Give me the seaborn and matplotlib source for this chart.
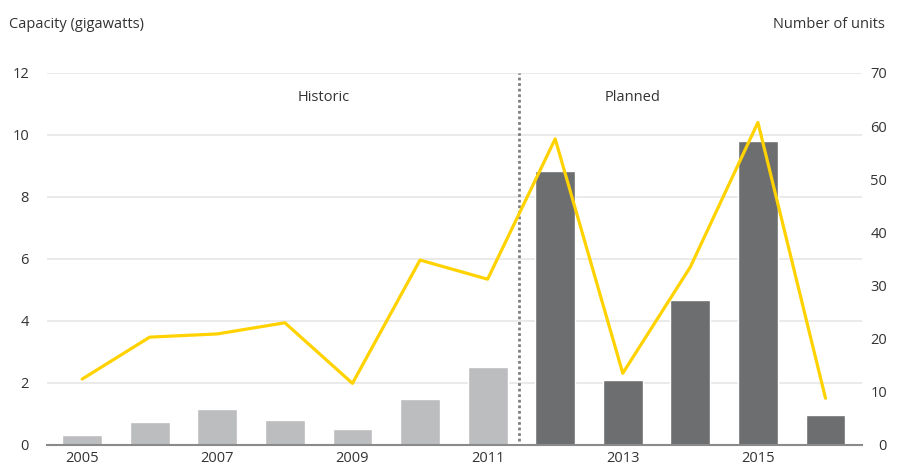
import matplotlib
matplotlib.use("Agg")
import matplotlib.pyplot as plt
import seaborn as sns
import pandas as pd
import numpy as np

years = ["2005", "2006", "2007", "2008", "2009", "2010", "2011",
         "2012", "2013", "2014", "2015", "2016"]
capacity_gw = [0.32, 0.74, 1.16, 0.81, 0.52, 1.48, 2.52,
               8.84, 2.10, 4.68, 9.81, 0.97]
units = [12.4, 20.3, 20.9, 23.0, 11.6, 34.8, 31.2,
         57.6, 13.5, 33.5, 60.7, 8.8]
period = ["Historic"] * 7 + ["Planned"] * 5
xtick_labels = ["2005", "", "2007", "", "2009", "", "2011", "", "2013", "", "2015", ""]

df = pd.DataFrame({"year": years, "capacity": capacity_gw, "units": units, "period": period})

sns.set_theme(style="white")
plt.rcParams["font.family"] = ["Open Sans", "DejaVu Sans"]
text_color = "#333333"
fs = 10.5

W, H = 898, 470
fig = plt.figure(figsize=(W / 100, H / 100), dpi=100)
ax = fig.add_axes([47 / W, 25 / H, (862 - 47) / W, (445 - 73) / H])

sns.barplot(data=df, x="year", y="capacity", hue="period",
            palette={"Historic": "#BCBDBF", "Planned": "#6D6E70"},
            dodge=False, width=0.59, legend=False, ax=ax, zorder=2,
            saturation=1)

ax.set_ylim(0, 12)
ax.set_yticks(np.arange(0, 13, 2))
ax.set_xlim(-0.52, 11.54)
ax.grid(axis="y", color="#E6E6E6", linewidth=1.2, zorder=0)
ax.set_axisbelow(True)
ax.set_xlabel("")
ax.set_ylabel("")
ax.set_xticks(range(len(years)))
ax.set_xticklabels(xtick_labels)
for s in ["top", "left", "right"]:
    ax.spines[s].set_visible(False)
ax.spines["bottom"].set_color("#8A8A8A")
ax.spines["bottom"].set_linewidth(1.5)
ax.spines["bottom"].set_zorder(5)
ax.tick_params(axis="both", length=0, labelsize=fs, colors=text_color)
ax.tick_params(axis="x", pad=4)
ax.tick_params(axis="y", pad=13)
for t in ax.get_yticklabels():
    t.set_horizontalalignment("right")

# divider between historic and planned
ax.axvline(6.47, ymin=0.01, ymax=1, color="#7F7F7F", linestyle=(0, (1, 1)),
           linewidth=2, zorder=3)
ax.text(3.58, 11.2, "Historic", ha="center", va="center", fontsize=fs, color=text_color)
ax.text(8.15, 11.2, "Planned", ha="center", va="center", fontsize=fs, color=text_color)

ax2 = ax.twinx()
sns.lineplot(data=df, x="year", y="units", color="#FFD200", linewidth=2.3,
             sort=False, ax=ax2, zorder=4)
ax2.set_ylim(0, 70)
ax2.set_yticks(np.arange(0, 71, 10))
ax2.set_xlim(-0.52, 11.54)
ax2.set_ylabel("")
ax2.set_xlabel("")
for s in ["top", "left", "right", "bottom"]:
    ax2.spines[s].set_visible(False)
ax2.tick_params(axis="y", length=0, labelsize=fs, colors=text_color, pad=18)
for t in ax2.get_yticklabels():
    t.set_horizontalalignment("right")
ax2.grid(False)

fig.text(9 / W, 1 - 24 / H, "Capacity (gigawatts)", ha="left", va="center",
         fontsize=fs, color=text_color)
fig.text(885 / W, 1 - 24 / H, "Number of units", ha="right", va="center",
         fontsize=fs, color=text_color)

fig.savefig("out.png", dpi=100, facecolor="white")
